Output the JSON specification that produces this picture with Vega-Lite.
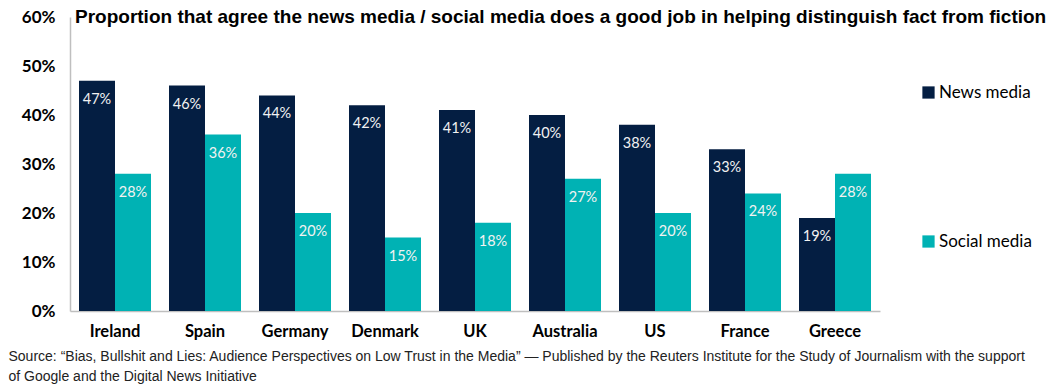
{
  "$schema": "https://vega.github.io/schema/vega-lite/v6.json",
  "autosize": {"type": "none"},
  "padding": {"left": 70, "top": 17, "right": 171, "bottom": 79},
  "width": 810,
  "height": 294,
  "background": "white",
  "title": {
    "text": "Proportion that agree the news media / social media does a good job in helping distinguish fact from fiction",
    "orient": "top",
    "anchor": "start",
    "frame": "group",
    "offset": -28,
    "dx": 5,
    "baseline": "middle",
    "font": "Liberation Sans",
    "fontSize": 19,
    "fontWeight": "bold",
    "color": "#000000"
  },
  "data": {
    "values": [
      {"country": "Ireland", "type": "News media", "value": 0.47},
      {"country": "Ireland", "type": "Social media", "value": 0.28},
      {"country": "Spain", "type": "News media", "value": 0.46},
      {"country": "Spain", "type": "Social media", "value": 0.36},
      {"country": "Germany", "type": "News media", "value": 0.44},
      {"country": "Germany", "type": "Social media", "value": 0.20},
      {"country": "Denmark", "type": "News media", "value": 0.42},
      {"country": "Denmark", "type": "Social media", "value": 0.15},
      {"country": "UK", "type": "News media", "value": 0.41},
      {"country": "UK", "type": "Social media", "value": 0.18},
      {"country": "Australia", "type": "News media", "value": 0.40},
      {"country": "Australia", "type": "Social media", "value": 0.27},
      {"country": "US", "type": "News media", "value": 0.38},
      {"country": "US", "type": "Social media", "value": 0.20},
      {"country": "France", "type": "News media", "value": 0.33},
      {"country": "France", "type": "Social media", "value": 0.24},
      {"country": "Greece", "type": "News media", "value": 0.19},
      {"country": "Greece", "type": "Social media", "value": 0.28}
    ]
  },
  "encoding": {
    "x": {
      "field": "country",
      "type": "nominal",
      "sort": null,
      "scale": {"paddingInner": 0.2, "paddingOuter": 0.1},
      "axis": {
        "title": [
          "Source: “Bias, Bullshit and Lies: Audience Perspectives on Low Trust in the Media”  — Published by the Reuters Institute for the Study of Journalism with the support",
          "of Google and the Digital News Initiative"
        ],
        "titleFont": "Liberation Sans",
        "titleFontSize": 14,
        "titleFontWeight": "normal",
        "titleColor": "#222222",
        "titleAnchor": "start",
        "titleAlign": "left",
        "titleBaseline": "middle",
        "titleX": -62,
        "titleY": 45,
        "titleLineHeight": 20,
        "labelAngle": 0,
        "labelFont": "Lato",
        "labelFontSize": 16.5,
        "labelFontWeight": "bold",
        "labelColor": "#000000",
        "labelPadding": 12,
        "ticks": false,
        "domainColor": "#BFBFBF",
        "domainWidth": 1.5
      }
    },
    "xOffset": {"field": "type", "type": "nominal", "scale": {"paddingInner": 0, "paddingOuter": 0}},
    "y": {
      "field": "value",
      "type": "quantitative",
      "scale": {"domain": [0, 0.6], "nice": false},
      "axis": {
        "title": null,
        "format": ".0%",
        "values": [0, 0.1, 0.2, 0.3, 0.4, 0.5, 0.6],
        "grid": false,
        "ticks": false,
        "labelFont": "Lato",
        "labelFontSize": 17,
        "labelFontWeight": "bold",
        "labelColor": "#000000",
        "labelPadding": 15,
        "domainColor": "#BFBFBF",
        "domainWidth": 1.5
      }
    }
  },
  "layer": [
    {
      "mark": {"type": "bar"},
      "encoding": {
        "color": {
          "field": "type",
          "type": "nominal",
          "scale": {"domain": ["News media", "Social media"], "range": ["#041E42", "#00B2B4"]},
          "legend": {
            "title": null,
            "orient": "none",
            "legendX": 850,
            "legendY": 67,
            "symbolType": "square",
            "symbolSize": 150,
            "symbolStrokeWidth": 0,
            "labelFont": "Lato",
            "labelFontSize": 17,
            "labelColor": "#000000",
            "labelOffset": 2,
            "rowPadding": 131
          }
        }
      }
    },
    {
      "mark": {"type": "text", "baseline": "middle", "dy": 19, "font": "Lato", "fontSize": 14.5, "color": "#F2F2F2"},
      "encoding": {
        "text": {"field": "value", "type": "quantitative", "format": ".0%"}
      }
    }
  ],
  "config": {"view": {"stroke": null}}
}
